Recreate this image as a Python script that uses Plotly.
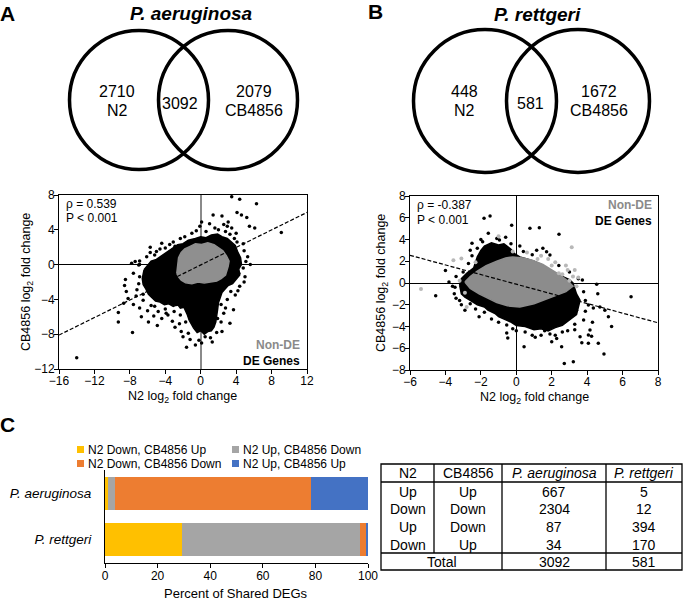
import plotly.graph_objects as go

W, H = 685, 603
def px(x): return x / W
def py(y): return 1 - y / H

FONT = "Liberation Sans, Arial, sans-serif"

# ---------------- Venn data ----------------
species = ["P. aeruginosa", "P. rettgeri"]
only_n2 = [2710, 448]
shared = [3092, 581]
only_cb = [2079, 1672]

# ---------------- Table / bar data ----------------
n2_dir = ["Up", "Down", "Up", "Down"]
cb_dir = ["Up", "Down", "Down", "Up"]
aeru_counts = [667, 2304, 87, 34]
rett_counts = [5, 12, 394, 170]
bar_series = ["N2 Down, CB4856 Up", "N2 Up, CB4856 Down", "N2 Down, CB4856 Down", "N2 Up, CB4856 Up"]
bar_rows = [3, 2, 1, 0]   # table row feeding each bar series
bar_colors = ["#FFC000", "#A5A5A5", "#ED7D31", "#4472C4"]

# ---------------- Scatter stats ----------------
rho_vals = [0.539, -0.387]
p_text = ["P < 0.001", "P < 0.001"]

# Panel A (P. aeruginosa): dense DE cloud outline, non-DE core outline, sparse DE points
A_de_cloud_x = [-6.4, -6.0, -5.6, -5.0, -4.6, -4.0, -3.6, -3.0, -2.6, -2.0, -1.4, -0.6, 0.0, 0.6, 1.2, 1.9, 2.4,
                3.0, 3.4, 3.9, 4.2, 4.5, 4.6, 4.3, 4.4, 3.9, 3.6, 3.1, 2.8, 2.4, 2.2, 2.0, 1.9, 1.8, 1.7,
                1.5, 1.2, 0.8, 0.4, 0.0, -0.4, -0.8, -1.0, -1.3, -1.5, -1.7, -1.9, -2.3, -2.6, -3.1, -3.6,
                -4.1, -4.6, -5.1, -5.5, -5.9, -6.2, -6.5, -6.6, -6.5]
A_de_cloud_y = [-0.6, -0.1, 0.4, 0.6, 0.9, 1.3, 1.6, 2.0, 2.3, 2.4, 2.8, 3.0, 3.2, 3.1, 3.4, 3.5, 3.2,
                3.0, 2.6, 2.2, 1.4, 0.8, 0.0, -0.5, -1.2, -1.8, -2.2, -2.4, -2.8, -3.2, -3.8, -4.4, -5.2, -5.9, -6.6,
                -7.2, -7.6, -7.7, -8.0, -7.6, -7.8, -7.3, -7.0, -6.4, -5.8, -5.4, -4.9, -5.0, -4.6, -4.8, -4.5,
                -4.6, -4.3, -4.2, -3.8, -3.4, -2.8, -2.3, -1.6, -1.1]
A_nonde_x = [-2.7, -2.6, -2.5, -2.2, -1.8, -1.2, -0.6, 0.1, 0.8, 1.5, 2.0, 2.5, 2.9, 3.2, 3.1, 2.8, 2.3, 1.8, 1.1, 0.4, -0.3, -1.0, -1.7, -2.2, -2.5]
A_nonde_y = [-1.0, -0.1, 0.8, 1.4, 1.8, 2.1, 2.4, 2.3, 2.5, 2.3, 2.0, 1.6, 1.0, 0.4, -0.2, -1.2, -1.6, -1.9, -2.0, -2.1, -2.0, -2.2, -2.1, -1.8, -1.4]
A_de_points = [(-14.0, -10.7), (-7.7, -7.8), (-9.3, -5.5), (-8.5, -1.7), (-8.6, -2.4), (-7.8, 0.15),
               (-7.4, 0.35), (-7.0, -0.05), (-5.7, 2.0), (-4.4, 2.45), (-2.9, 2.1), (-8.7, -4.45),
               (-8.4, -3.1), (-7.6, -4.6), (-6.7, -6.0), (-5.9, -6.6), (-4.4, -6.2), (-3.7, -5.8),
               (-2.2, -7.7), (-2.7, -4.6), (-7.2, -2.9), (-6.9, -1.4), (-6.5, -4.1), (-5.2, -4.8),
               (3.5, 7.8), (4.4, 7.5), (6.3, 7.0), (9.1, 3.7), (4.1, 6.0), (4.6, 5.7), (5.2, 5.4),
               (5.5, 4.4), (6.1, 4.2), (2.4, 5.6), (1.4, 5.7), (1.0, 4.7), (0.1, 4.9), (-0.1, 4.4),
               (3.1, 4.9), (3.5, 4.2), (3.9, -3.5), (3.7, -5.2), (3.3, -6.75), (2.4, -7.7),
               (-0.6, -9.25), (-1.6, -9.5), (1.9, -6.2), (4.3, -1.0), (4.8, -0.4), (5.1, 0.35),
               (4.4, -2.5), (-2.0, -8.3), (0.5, -8.3), (1.3, -8.9), (-9.3, -6.6), (-5.0, 1.5),
               (-4.0, 1.9), (-1.0, 3.6), (2.0, 4.0), (2.8, 3.8), (3.0, 4.4), (-6.0, -5.3),
               (-3.2, -6.5), (-2.4, -6.8), (-1.2, -8.6), (0.8, -7.3), (2.6, -5.6), (-6.9, 0.4),
               (-5.2, 1.1), (-3.1, 2.6), (-1.8, 3.2), (0.6, 3.8), (4.9, 1.6), (4.0, 3.6), (5.0, -1.4),
               (2.3, -4.6), (-7.3, -3.6), (-6.9, -5.0), (-4.8, -5.4), (-6.1, 0.9), (-4.6, 1.8),
               (-3.5, 2.3), (-2.3, 3.0), (-0.5, 3.9), (1.6, 4.2), (2.6, 4.6), (3.8, 3.0), (4.8, 2.4),
               (5.3, 0.9), (4.9, -2.0), (4.2, -3.0), (3.0, -4.0), (2.8, -5.0), (2.3, -6.6), (1.8, -7.8),
               (-0.2, -8.7), (-1.4, -7.9), (-2.3, -5.8), (-3.0, -5.4), (-4.0, -5.1), (-5.6, -4.7),
               (-6.5, -3.4), (-7.0, -2.2), (-7.6, -1.0), (-6.9, 0.0), (-5.7, 1.4), (-3.9, -5.6),
               (-1.7, -6.6), (0.1, -9.0), (3.4, -3.1), (5.6, 0.0), (4.1, 2.6), (3.3, 3.5), (-8.2, -3.9),
               (-5.3, -5.9), (-4.9, -7.0), (-2.9, -7.2), (1.1, -8.4), (2.0, -3.6)]
A_fit_x = [-16, 12]
A_fit_y = [-8.1, 6.0]

# Panel B (P. rettgeri)
B_de_cloud_x = [-3.2, -3.1, -2.8, -2.4, -2.3, -2.2, -2.0, -1.8, -1.4, -1.0, -0.7, -0.3, -0.1, 0.2, 0.6, 1.0, 1.4,
                1.8, 2.2, 2.6, 3.0, 3.2, 3.3, 3.4, 3.6, 3.5, 3.4, 3.0, 2.6, 2.2, 1.8, 1.4, 1.0, 0.5, 0.0, -0.3,
                -0.6, -1.0, -1.2, -1.6, -1.8, -2.2, -2.6, -2.9, -3.1]
B_de_cloud_y = [-0.2, 0.4, 0.9, 1.4, 1.9, 2.4, 3.0, 3.4, 3.7, 3.5, 3.6, 3.1, 2.7, 2.4, 2.2, 2.0, 1.7,
                1.2, 0.9, 0.6, 0.3, 0.0, -0.5, -1.0, -1.6, -2.2, -2.9, -3.4, -3.9, -4.1, -4.4, -4.2, -4.3, -4.0, -3.9, -3.6,
                -3.4, -3.1, -2.8, -2.5, -2.2, -2.0, -1.6, -1.3, -1.0]
B_nonde_x = [-2.9, -2.6, -2.2, -1.7, -1.1, -0.6, -0.2, 0.4, 0.9, 1.5, 2.0, 2.5, 2.9, 3.2, 2.8, 2.3, 1.7, 1.0, 0.2, -0.5, -1.1, -1.6, -2.1, -2.6]
B_nonde_y = [0.1, 0.6, 1.1, 1.6, 2.0, 2.3, 2.4, 2.3, 2.1, 1.7, 1.2, 0.7, 0.2, -0.3, -0.8, -1.1, -1.5, -1.9, -2.2, -2.1, -1.8, -1.4, -1.0, -0.5]
B_de_points = [(-1.82, 5.95), (-1.48, 6.15), (-0.26, 5.3), (-4.55, -1.17), (-4.0, 1.15), (-3.8, 0.1),
               (-3.46, -0.4), (-2.1, -3.1), (-0.54, -3.86), (-0.54, -4.6), (-0.48, -5.06), (0.44, -5.86),
               (1.07, -5.0), (-1.58, 4.57), (-0.95, 3.96), (-2.5, 3.65), (-2.2, 3.2), (-3.2, -1.6),
               (-2.6, -1.9), (1.3, 5.09), (0.77, 5.03), (2.41, 4.48), (3.73, 0.28), (4.54, -0.12),
               (6.48, -1.26), (5.38, -4.0), (4.95, -6.53), (2.71, -7.4), (3.22, -7.23), (4.16, -4.32),
               (4.07, -4.78), (4.25, -4.9), (4.63, -5.54), (4.07, -5.54), (3.7, -5.5), (3.6, -4.94),
               (3.3, -4.3), (3.8, -3.4), (3.4, -2.5), (4.07, -2.02), (4.35, -2.3), (4.72, -2.2),
               (5.0, -2.5), (5.2, -3.1), (2.56, -5.86), (2.28, -5.1), (1.9, -4.7), (1.9, 2.57),
               (1.71, 2.88), (1.5, 3.2), (1.15, 3.0), (-3.0, 1.0), (-2.8, -0.8), (0.5, -4.5),
               (1.4, -4.8), (2.9, -4.4), (-2.5, 2.5), (-0.3, 3.6), (-3.5, -1.0), (-2.9, -2.5),
               (-1.4, -3.3), (0.2, 3.4), (-1.1, 4.1), (-2.0, 4.0), (0.0, -4.4), (2.2, -4.8),
               (-3.4, 0.6), (-3.6, -0.3), (-2.7, 1.8), (-2.6, 3.0), (-1.9, 3.8), (-0.6, 4.2),
               (0.4, 2.9), (0.9, 2.6), (2.4, 1.6), (3.0, 1.0), (3.5, 0.4), (3.8, -0.8), (3.9, -1.6),
               (3.9, -2.6), (3.3, -3.8), (2.6, -4.5), (1.6, -4.4), (0.9, -4.8), (-0.2, -4.2), (-1.0, -3.6),
               (-1.8, -2.7), (-2.3, -2.4), (-3.1, -2.0), (-3.4, -1.4), (4.6, -1.0), (4.3, -3.6), (2.0, -5.4)]
B_nonde_points = [(-5.38, -0.55), (-3.55, 2.1), (-3.1, 2.25), (3.13, 3.28), (2.4, 0.9), (2.6, 0.8),
                  (-2.8, -2.2), (3.3, 1.2), (2.8, 1.6), (1.8, 2.2), (-1.0, 4.3), (3.5, 0.5),
                  (2.2, 1.9), (1.4, 2.5), (0.6, 2.8), (2.9, 1.2), (3.2, 0.6), (3.0, 0.2), (2.0, 1.6),
                  (1.2, 2.2), (-0.2, 2.9), (-2.3, 1.9), (-3.2, 0.2), (-2.9, -0.9), (3.4, -0.3)]
B_fit_x = [-6, 8]
B_fit_y = [2.55, -3.66]

fig = go.Figure()

def add_cloud(xs, ys, color, xa, ya):
    fig.add_trace(go.Scatter(x=xs + xs[:1], y=ys + ys[:1], mode="lines", fill="toself",
                             fillcolor=color, line=dict(color=color, width=1.5),
                             hoverinfo="skip", showlegend=False, xaxis=xa, yaxis=ya))

def add_points(pts, color, xa, ya, size=3.5):
    fig.add_trace(go.Scatter(x=[p[0] for p in pts], y=[p[1] for p in pts], mode="markers",
                             marker=dict(color=color, size=size, line=dict(width=0)), showlegend=False,
                             xaxis=xa, yaxis=ya))

# Panel A traces
add_cloud(A_de_cloud_x, A_de_cloud_y, "#000000", "x", "y")
add_points(A_de_points, "#000000", "x", "y")
add_cloud(A_nonde_x, A_nonde_y, "#8f8f8f", "x", "y")
fig.add_trace(go.Scatter(x=A_fit_x, y=A_fit_y, mode="lines", line=dict(color="black", width=1.2, dash="4px,2px"),
                         showlegend=False, xaxis="x", yaxis="y"))

# Panel B traces
add_cloud(B_de_cloud_x, B_de_cloud_y, "#000000", "x2", "y2")
add_points(B_de_points, "#000000", "x2", "y2")
add_cloud(B_nonde_x, B_nonde_y, "#8c8c8c", "x2", "y2")
add_points(B_nonde_points, "#b8b8b8", "x2", "y2", size=4)
fig.add_trace(go.Scatter(x=B_fit_x, y=B_fit_y, mode="lines", line=dict(color="black", width=1.2, dash="4px,2px"),
                         showlegend=False, xaxis="x2", yaxis="y2"))

# Panel C bars
totals = [sum(aeru_counts), sum(rett_counts)]
for name, row, col in zip(bar_series, bar_rows, bar_colors):
    vals = [aeru_counts[row] / totals[0] * 100, rett_counts[row] / totals[1] * 100]
    fig.add_trace(go.Bar(y=species, x=vals, orientation="h", name=name,
                         marker=dict(color=col, line=dict(width=0)),
                         showlegend=False, xaxis="x3", yaxis="y3"))

tickfont = dict(family=FONT, size=12, color="black")
common = dict(showline=True, mirror=True, linecolor="black", linewidth=1, ticks="outside",
              ticklen=4, tickwidth=1, tickcolor="black", showgrid=False, tickfont=tickfont,
              automargin=False)

fig.update_layout(
    template="none",
    width=W, height=H, margin=dict(l=0, r=0, t=0, b=0, pad=0), autosize=False,
    paper_bgcolor="white", plot_bgcolor="white", barmode="stack", bargap=0.3,
    font=dict(family=FONT, color="black"), showlegend=False,
    xaxis=dict(domain=[px(59), px(307)], range=[-16, 12], dtick=4, anchor="y", ticklabelstandoff=-3,
               zeroline=True, zerolinecolor="#8a8a8a", zerolinewidth=1.5, **common),
    yaxis=dict(domain=[py(369), py(195)], range=[-12, 8], dtick=4, anchor="x", ticklabelstandoff=-3,
               zeroline=True, zerolinecolor="black", zerolinewidth=1.2, **common),
    xaxis2=dict(domain=[px(410), px(658)], range=[-6, 8], dtick=2, anchor="y2", ticklabelstandoff=-3,
                zeroline=True, zerolinecolor="black", zerolinewidth=1.2, **common),
    yaxis2=dict(domain=[py(370), py(196)], range=[-8, 8], dtick=2, anchor="x2", ticklabelstandoff=-3,
                zeroline=True, zerolinecolor="black", zerolinewidth=1.2, **common),
    xaxis3=dict(domain=[px(105), px(368)], range=[0, 100], dtick=20, anchor="y3",
                showline=True, linecolor="black", linewidth=1, ticks="outside", ticklen=4,
                tickcolor="black", showgrid=False, zeroline=False, tickfont=tickfont, automargin=False,
                ticklabelstandoff=-2),
    yaxis3=dict(domain=[py(563), py(470)], anchor="x3", autorange="reversed",
                categoryorder="array", categoryarray=species,
                tickvals=species, ticktext=[f"<i>{s}</i>" for s in species],
                showline=True, linecolor="black", linewidth=1, ticks="", showgrid=False, zeroline=False,
                automargin=False, ticklabelstandoff=10, tickfont=dict(family=FONT, size=13.5, color="black")),
)

shapes = []
annotations = []

def ann(x, y, text, size, xanchor="center", color="black", bold=False, italic=False, yanchor="middle", angle=0):
    if italic:
        text = f"<i>{text}</i>"
    if bold:
        text = f"<b>{text}</b>"
    annotations.append(dict(x=px(x), y=py(y), xref="paper", yref="paper", text=text, showarrow=False,
                            xanchor=xanchor, yanchor=yanchor, borderpad=0, textangle=angle,
                            font=dict(family=FONT, size=size, color=color)))

# Panel letters and titles
ann(8, 13, "A", 21, bold=True)
ann(375, 11, "B", 21, bold=True)
ann(7, 424, "C", 21, bold=True)
ann(191, 13, species[0], 19, bold=True, italic=True)
ann(537, 15, species[1], 19, bold=True, italic=True)

# Venn diagrams
venn = [((139, 100, 69.5), (228, 100, 69.5)), ((485, 101, 71.5), (578, 101, 71.5))]
label_pos = [((117, 101.5), (180, 103), (254, 101.5)), ((465, 101.5), (530, 103), (599, 101.5))]
VF = 16
for i in range(2):
    for (cx, cy, r) in venn[i]:
        shapes.append(dict(type="circle", xref="paper", yref="paper",
                           x0=px(cx - r), x1=px(cx + r), y0=py(cy + r), y1=py(cy - r),
                           line=dict(color="black", width=3.5)))
    (lx, ly), (mx, my), (rx, ry) = label_pos[i]
    ann(lx, ly, f"{only_n2[i]}", VF, yanchor="bottom")
    ann(lx, ly, "N2", VF, yanchor="top")
    ann(mx, my, f"{shared[i]}", VF)
    ann(rx, ry, f"{only_cb[i]}", VF, yanchor="bottom")
    ann(rx, ry, "CB4856", VF, yanchor="top")

# Axis titles
ytitle = "CB4856 log<sub>2</sub> fold change"
xtitle = "N2 log<sub>2</sub> fold change"
ann(27, 282, ytitle, 12.5, angle=-90)
ann(382, 283, ytitle, 12.5, angle=-90)
ann(183, 397, xtitle, 12.5)
ann(534, 398, xtitle, 12.5)
ann(236.5, 593, "Percent of Shared DEGs", 13)

# Scatter in-plot text
ann(65, 204, f"ρ = {rho_vals[0]}", 12, xanchor="left")
ann(65, 218, p_text[0], 12, xanchor="left")
ann(301, 345, "Non-DE", 12, xanchor="right", color="#8a8a8a", bold=True)
ann(301, 361, "DE Genes", 12, xanchor="right", bold=True)
ann(416, 205, f"ρ = {rho_vals[1]}", 12, xanchor="left")
ann(416, 220, p_text[1], 12, xanchor="left")
ann(653, 205, "Non-DE", 12, xanchor="right", color="#8a8a8a", bold=True)
ann(653, 221, "DE Genes", 12, xanchor="right", bold=True)

# Bar legend (manual, 2 x 2)
leg_pos = [(77, 449.5), (232, 449.5), (77, 463.5), (232, 463.5)]
for name, col, (lx, ly) in zip(bar_series, bar_colors, leg_pos):
    shapes.append(dict(type="rect", xref="paper", yref="paper", x0=px(lx), x1=px(lx + 7),
                       y0=py(ly + 3.5), y1=py(ly - 3.5), fillcolor=col, line=dict(width=0)))
    ann(lx + 10, ly, name, 12, xanchor="left")

# Table
tl, tr, tt, tb = 381, 682, 464, 570
hline, totline = 482, 553
vlines = [(434, tt, totline), (502, tt, tb), (606, tt, tb)]
def seg(x0, y0, x1, y1):
    shapes.append(dict(type="line", xref="paper", yref="paper", x0=px(x0), y0=py(y0), x1=px(x1), y1=py(y1),
                       line=dict(color="black", width=1.3)))
shapes.append(dict(type="rect", xref="paper", yref="paper", x0=px(tl), x1=px(tr), y0=py(tb), y1=py(tt),
                   line=dict(color="black", width=1.3)))
seg(tl, hline, tr, hline)
seg(tl, totline, tr, totline)
for (vx, y0, y1) in vlines:
    seg(vx, y0, vx, y1)
col_c = [407.5, 468, 554, 644]
TF = 14
ann(col_c[0], 473, "N2", TF)
ann(col_c[1], 473, "CB4856", TF)
ann(col_c[2], 473, species[0], TF, italic=True)
ann(col_c[3], 473, species[1], TF, italic=True)
row_y = [491.5, 509, 527, 544.5]
for i in range(4):
    ann(col_c[0], row_y[i], n2_dir[i], TF)
    ann(col_c[1], row_y[i], cb_dir[i], TF)
    ann(col_c[2], row_y[i], str(aeru_counts[i]), TF)
    ann(col_c[3], row_y[i], str(rett_counts[i]), TF)
ann((tl + 502) / 2, 561.5, "Total", TF)
ann(col_c[2], 561.5, str(totals[0]), TF)
ann(col_c[3], 561.5, str(totals[1]), TF)

fig.update_layout(shapes=shapes, annotations=annotations)
fig.write_html("out.html", config={"displayModeBar": False},
               post_script="document.body.style.margin='0px';document.body.style.overflow='hidden';")
